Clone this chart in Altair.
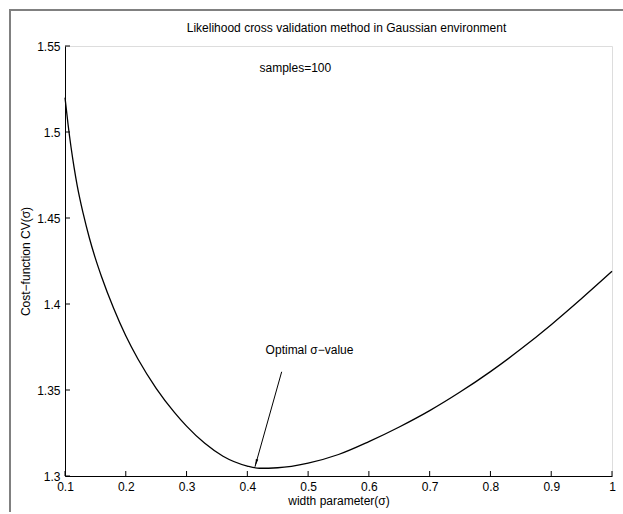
import altair as alt
import pandas as pd

# Cross-validation cost as a function of the kernel width sigma
sigma = [0.1, 0.105, 0.11, 0.115, 0.12, 0.13, 0.14, 0.15, 0.16, 0.18, 0.2, 0.22,
         0.25, 0.28, 0.3, 0.33, 0.36, 0.4, 0.42, 0.45, 0.5, 0.55, 0.6, 0.65,
         0.7, 0.75, 0.8, 0.85, 0.9, 0.95, 1.0]
cost = [1.520, 1.5045, 1.491, 1.4793, 1.469, 1.4525, 1.4385, 1.4265, 1.416,
        1.3975, 1.3815, 1.368, 1.351, 1.337, 1.329, 1.319, 1.3115, 1.3058,
        1.3045, 1.3048, 1.3075, 1.3125, 1.320, 1.3285, 1.338, 1.3488, 1.3607,
        1.3738, 1.388, 1.4032, 1.419]

x_ticks = [0.1, 0.2, 0.3, 0.4, 0.5, 0.6, 0.7, 0.8, 0.9, 1.0]
y_ticks = [1.3, 1.35, 1.4, 1.45, 1.5, 1.55]

# Annotation arrow (tail -> tip) and text labels
arrow_x = [0.4565, 0.4126]
arrow_y = [1.3606, 1.3054]
notes_text = ["Optimal σ\u2212value", "samples=100"]
notes_x = [0.5023, 0.479]
notes_y = [1.3732, 1.5375]
title_text = "Likelihood cross validation method in Gaussian environment"

W, H = 547, 430
FONT = "Liberation Sans"

curve_df = pd.DataFrame({"sigma": sigma, "cost": cost})
xt_df = pd.DataFrame({"v": x_ticks})
yt_df = pd.DataFrame({"v": y_ticks})
one_df = pd.DataFrame({"k": [0]})
arrow_df = pd.DataFrame({"x": [arrow_x[0]], "y": [arrow_y[0]],
                         "x2": [arrow_x[1]], "y2": [arrow_y[1]]})
tip_df = pd.DataFrame({"x": [arrow_x[1]], "y": [arrow_y[1]]})
notes_df = pd.DataFrame({"t": notes_text, "x": notes_x, "y": notes_y})
title_df = pd.DataFrame({"t": [title_text]})

xs = alt.Scale(domain=[0.1, 1.0], nice=False)
ys = alt.Scale(domain=[1.3, 1.55], nice=False, zero=False)

x_axis = alt.Axis(values=x_ticks, format="~g", ticks=False, grid=False,
                  domainColor="black", labelColor="black", labelFontSize=12,
                  labelFont=FONT, labelPadding=5, titleFont=FONT,
                  titleFontSize=12, titleFontWeight="normal", titleColor="black",
                  titlePadding=3, labelFlush=False)
y_axis = alt.Axis(values=y_ticks, format="~g", ticks=False, grid=False,
                  domainColor="black", labelColor="black", labelFontSize=12,
                  labelFont=FONT, labelPadding=5, titleFont=FONT,
                  titleFontSize=12, titleFontWeight="normal", titleColor="black",
                  titlePadding=4, labelFlush=False)

curve = alt.Chart(curve_df).mark_line(
    color="black", strokeWidth=1.3, interpolate="monotone"
).encode(
    x=alt.X("sigma:Q", scale=xs, axis=x_axis, title="width parameter(σ)"),
    y=alt.Y("cost:Q", scale=ys, axis=y_axis, title="Cost\u2212function CV(σ)"),
)

# inward-pointing tick marks
xticks = alt.Chart(xt_df).mark_rule(color="black", strokeWidth=1).encode(
    x=alt.X("v:Q", scale=xs), y=alt.value(H), y2=alt.value(H - 5))
yticks = alt.Chart(yt_df).mark_rule(color="black", strokeWidth=1).encode(
    y=alt.Y("v:Q", scale=ys), x=alt.value(0), x2=alt.value(5))

arrow = alt.Chart(arrow_df).mark_rule(color="black", strokeWidth=1).encode(
    x=alt.X("x:Q", scale=xs), y=alt.Y("y:Q", scale=ys),
    x2="x2:Q", y2="y2:Q")
tip = alt.Chart(tip_df).mark_point(
    shape="M0,0 L-0.32,-2 L0.32,-2 Z", filled=True, color="black",
    size=60, angle=15.7, opacity=1
).encode(x=alt.X("x:Q", scale=xs), y=alt.Y("y:Q", scale=ys))

notes = alt.Chart(notes_df).mark_text(
    font=FONT, fontSize=12, color="black", align="center", baseline="middle"
).encode(x=alt.X("x:Q", scale=xs), y=alt.Y("y:Q", scale=ys), text="t:N")

heading = alt.Chart(title_df).mark_text(
    font=FONT, fontSize=12, color="black", align="center", baseline="middle",
    clip=False
).encode(x=alt.value(W / 2 + 8), y=alt.value(-18), text="t:N")

# grey figure frame along the left and top edges
frame_left = alt.Chart(one_df).mark_rule(color="#808080", strokeWidth=2, clip=False).encode(
    x=alt.value(-55), y=alt.value(-36), y2=alt.value(H + 36))
frame_top = alt.Chart(one_df).mark_rule(color="#808080", strokeWidth=2, clip=False).encode(
    x=alt.value(-56), x2=alt.value(W + 11), y=alt.value(-36))

chart = alt.layer(
    frame_left, frame_top, xticks, yticks, curve, arrow, tip, notes, heading
).properties(
    width=W, height=H,
    autosize=alt.AutoSizeParams(type="none"),
    padding={"left": 65, "top": 46, "right": 11, "bottom": 36},
).configure_view(stroke=None).configure(background="white")

chart.save("out.html", embed_options={"renderer": "svg", "actions": False})
